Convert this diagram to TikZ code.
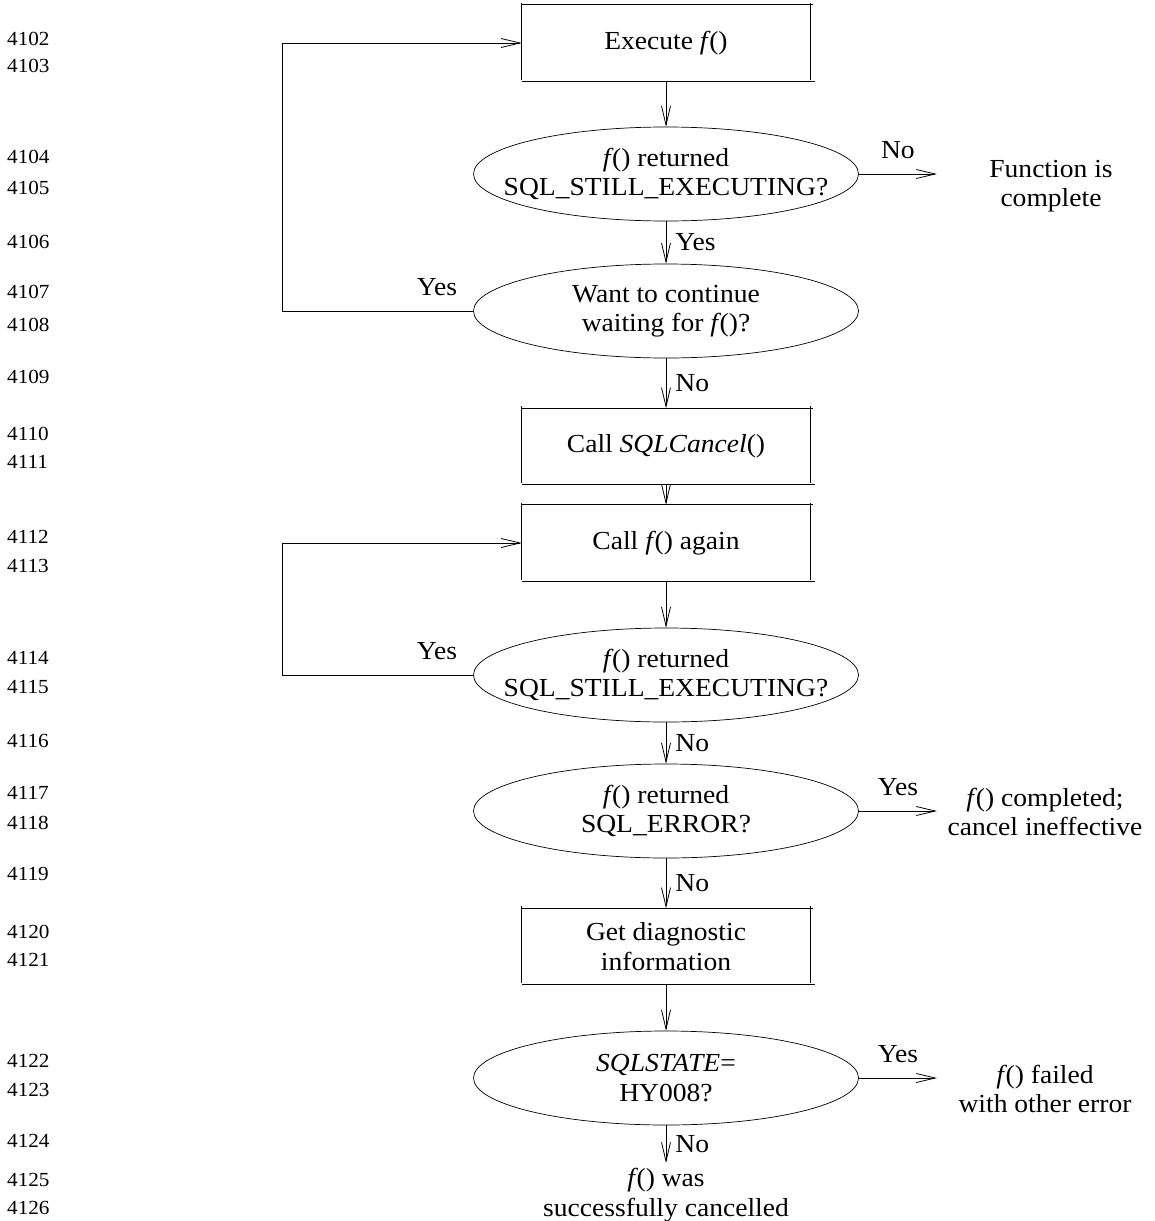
\documentclass[tikz,border=0pt]{standalone}
\usepackage{fontspec}
\setmainfont{Liberation Serif}[FakeStretch=1.06]
\usetikzlibrary{shapes.geometric,arrows.meta}
\newcommand\fcall{\textit{f}\kern-1.5pt()}
\begin{document}
\begin{tikzpicture}[x=1pt,y=-1pt,
  every node/.style={font=\fontsize{26}{29.5}\selectfont, inner sep=0pt, align=center},
  numtext/.style={font=\fontsize{20}{22}\selectfont, anchor=west},
  decision/.style={ellipse, draw, line width=0.7pt, minimum width=385pt, minimum height=94pt,
    label={[align=center]center:#1}},
  stepbox/.style={rectangle, minimum width=288pt, minimum height=76pt},
  flow/.style={-{Straight Barb[length=19pt,width=9pt]}, line width=0.8pt},
  boxline/.style={line width=0.9pt},
  sidelbl/.style={right=9pt},
  toplbl/.style={above=15pt}
]
\useasboundingbox (0,0) rectangle (1155,1221);

% line numbers in the margin
\foreach \n/\y in {4102/39,4103/66,4104/157,4105/188,4106/242,4107/292,4108/325,
  4109/377,4110/434,4111/462,4112/537,4113/566,4114/658,4115/687,4116/741,
  4117/793,4118/823,4119/874,4120/932,4121/960,4122/1061,4123/1090,
  4124/1141,4125/1180,4126/1208}
  \node[numtext] (n\n) at (7,\y) {\n};

% process boxes and decisions
\node[stepbox] (exec) at (666,43) {Execute \fcall};
\node[decision={\fcall\ returned\\SQL\_STILL\_EXECUTING?}] (ret1) at (666,174) {};
\node[decision={Want to continue\\waiting for \fcall?}] (wait) at (666,311) {};
\node[stepbox] (cancel) at (666,446.5) {Call \textit{SQLCancel}()};
\node[stepbox] (again) at (666,543) {Call \fcall\ again};
\node[decision={\fcall\ returned\\SQL\_STILL\_EXECUTING?}] (ret2) at (666,675) {};
\node[decision={\fcall\ returned\\SQL\_ERROR?}] (err) at (666,811) {};
\node[stepbox] (diag) at (666,946.5) {Get diagnostic\\information};
\node[decision={\textit{SQLSTATE}=\\HY008?}] (state) at (666,1078) {};

% outcomes
\node (done1) at (1051,186) {Function is\\complete};
\node (done2) at (1045,812) {\fcall\ completed;\\cancel ineffective};
\node (done3) at (1045,1089) {\fcall\ failed\\with other error};
\node (done4) at (666,1195) {\fcall\ was\\successfully cancelled};

% free arrow ends
\coordinate (e1) at (937,174);
\coordinate (e2) at (937,811);
\coordinate (e3) at (937,1078);
\coordinate (e4) at (666,1163);

% box outlines: separate strokes with overhanging ends
\foreach \b in {exec,cancel,again,diag} {
  \draw[boxline] (\b.north west) -- ([xshift=3pt]\b.north east);
  \draw[boxline] (\b.south west) -- ([xshift=5pt]\b.south east);
  \draw[boxline] ([yshift=2pt]\b.north west) -- ([yshift=1.5pt]\b.south west);
  \draw[boxline] ([yshift=2pt]\b.north east) -- ([yshift=1.5pt]\b.south east);
}

% main flow
\draw[flow] (exec.south) -- (ret1.north);
\draw[flow] (ret1.east) -- node[toplbl] {No} (e1);
\draw[flow] (ret1.south) -- node[sidelbl] {Yes} (wait.north);
\draw[flow] (wait.west) -- node[toplbl, pos=0.19] {Yes} ++(-190.5,0) |- (exec.west);
\draw[flow] (wait.south) -- node[sidelbl] {No} (cancel.north);
\draw[flow] (cancel.south) -- (again.north);
\draw[flow] (again.south) -- (ret2.north);
\draw[flow] (ret2.west) -- node[toplbl, pos=0.19] {Yes} ++(-190.5,0) |- (again.west);
\draw[flow] (ret2.south) -- node[sidelbl] {No} (err.north);
\draw[flow] (err.east) -- node[toplbl] {Yes} (e2);
\draw[flow] (err.south) -- node[sidelbl] {No} (diag.north);
\draw[flow] (diag.south) -- (state.north);
\draw[flow] (state.east) -- node[toplbl] {Yes} (e3);
\draw[flow] (state.south) -- node[sidelbl] {No} (e4);
\end{tikzpicture}
\end{document}
